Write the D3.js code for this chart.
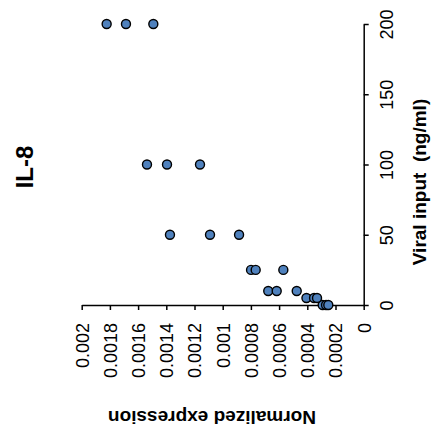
<!DOCTYPE html>
<html lang="en">
<head>
	<meta charset="UTF-8">
	<title>IL-8</title>
	<style>
		body { margin: 0; background: #fff; }
		text { font-family: Arial, "Liberation Sans", sans-serif; }
	</style>
</head>
<body>
	<svg width="431" height="432"></svg>
	<script type="text/javascript" src="https://cdn.jsdelivr.net/npm/d3@7"></script>
	<script type="text/javascript">
		// viral input doses and three replicate measurements for each dose
		var viralInput = [0, 5, 10, 25, 50, 100, 200];
		var rep1 = [0.000291, 0.000406, 0.000677, 0.000799, 0.001374, 0.001537, 0.001823];
		var rep2 = [0.000267, 0.000352, 0.000617, 0.000766, 0.00109, 0.001395, 0.001686];
		var rep3 = [0.000251, 0.000331, 0.000475, 0.00057, 0.000884, 0.001161, 0.001492];

		var exprTicks = [0, 0.0002, 0.0004, 0.0006, 0.0008, 0.001, 0.0012, 0.0014, 0.0016, 0.0018, 0.002];
		var exprLabels = ["0", "0.0002", "0.0004", "0.0006", "0.0008", "0.001", "0.0012", "0.0014", "0.0016", "0.0018", "0.002"];
		var viralTicks = [0, 50, 100, 150, 200];

		// points joined from the arrays above
		var points = [];
		viralInput.forEach(function(v, i) {
			[rep1, rep2, rep3].forEach(function(r) { points.push({ v: v, e: r[i] }); });
		});

		var svg = d3.select("svg");

		// the chart is turned a quarter turn: expression runs right to left, viral input bottom to top
		var x = d3.scaleLinear().domain([0, 0.002]).range([363.7, 81.7]);
		var y = d3.scaleLinear().domain([0, 200]).range([305, 24]);

		// expression axis (horizontal)
		var gx = svg.append("g")
			.attr("transform", "translate(0,305)")
			.call(d3.axisBottom(x).tickValues(exprTicks)
				.tickFormat(function(d, i) { return exprLabels[i]; })
				.tickSize(5).tickSizeOuter(0));
		gx.selectAll(".tick text")
			.attr("y", 0).attr("x", -18).attr("dy", "0.35em")
			.attr("transform", "rotate(-90)")
			.style("text-anchor", "end");

		// viral input axis (vertical)
		var gy = svg.append("g")
			.attr("transform", "translate(363.7,0)")
			.call(d3.axisRight(y).tickValues(viralTicks).tickSize(5).tickSizeOuter(0));
		gy.selectAll(".tick text")
			.attr("x", 0).attr("y", 29).attr("dy", 0)
			.attr("transform", "rotate(-90)")
			.style("text-anchor", "middle");

		svg.selectAll(".domain, .tick line").attr("stroke", "#000").attr("stroke-width", 1.5);
		svg.selectAll(".tick text").attr("font-size", 18).attr("font-family", "Arial, 'Liberation Sans', sans-serif").attr("fill", "#000");

		// data points
		svg.append("g").selectAll("circle")
			.data(points)
			.enter().append("circle")
			.attr("cx", function(d) { return x(d.e); })
			.attr("cy", function(d) { return y(d.v); })
			.attr("r", 4.5)
			.style("fill", "#4f81bd")
			.style("stroke", "#000")
			.style("stroke-width", 1.4);

		// titles
		svg.append("text")
			.attr("transform", "translate(426,182) rotate(-90)")
			.attr("text-anchor", "middle")
			.attr("font-size", 19).attr("font-weight", "bold")
			.attr("xml:space", "preserve")
			.text("Viral input  (ng/ml)");

		svg.append("text")
			.attr("transform", "translate(212,411) rotate(180)")
			.attr("text-anchor", "middle")
			.attr("font-size", 19).attr("font-weight", "bold")
			.text("Normalized expression");

		svg.append("text")
			.attr("transform", "translate(33,167) rotate(-90)")
			.attr("text-anchor", "middle")
			.attr("font-size", 24).attr("font-weight", "bold")
			.text("IL-8");
	</script>
</body>
</html>
